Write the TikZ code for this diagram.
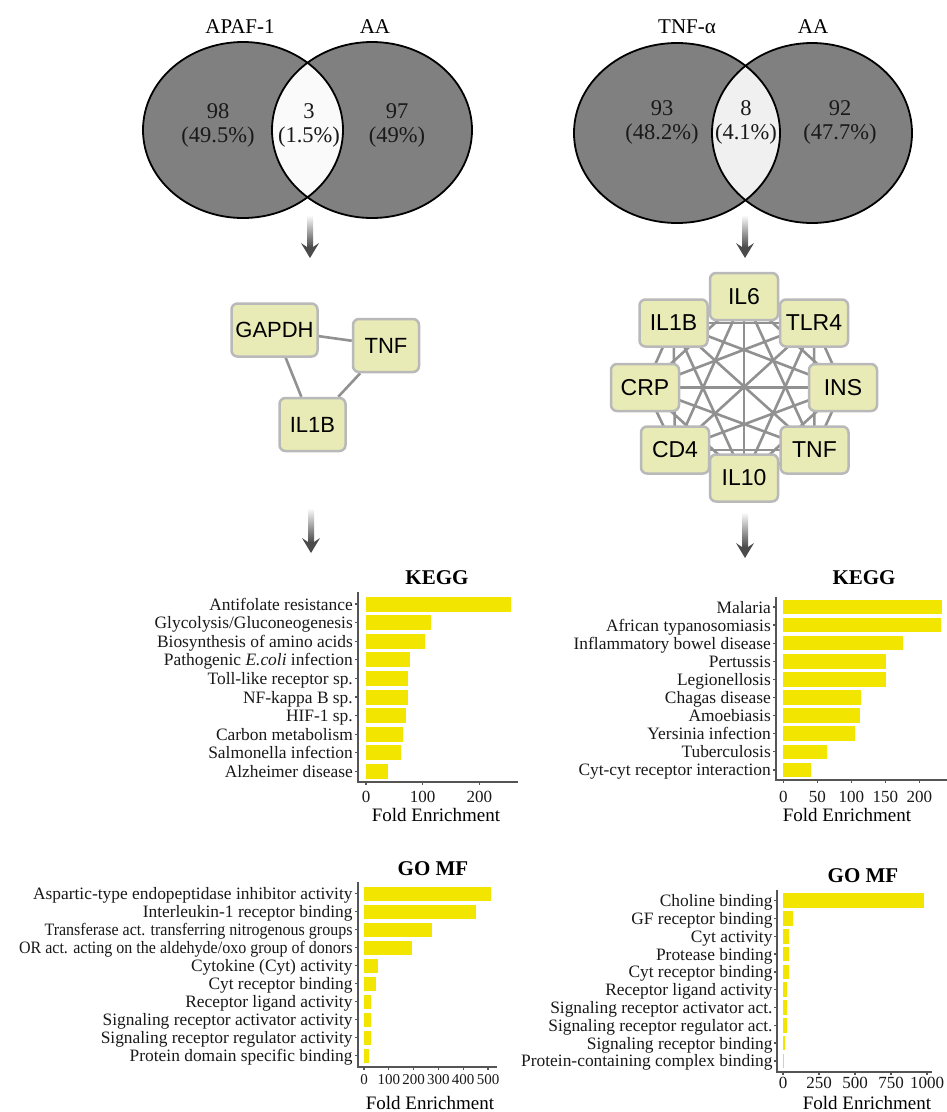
\documentclass[tikz,border=0pt]{standalone}
\usepackage{fontspec}
\setmainfont{Liberation Serif}
\newfontfamily\arialf{Liberation Sans}
\usetikzlibrary{backgrounds}
\pgfdeclarelayer{paper}
\pgfsetlayers{paper,background,main}
\definecolor{venngray}{RGB}{128,128,128}
\definecolor{lensL}{RGB}{250,250,250}
\definecolor{lensR}{RGB}{240,240,240}
\definecolor{boxfill}{RGB}{232,235,181}
\definecolor{boxedge}{RGB}{185,185,185}
\definecolor{edgec}{RGB}{145,145,145}
\definecolor{baryel}{RGB}{242,229,0}
\definecolor{axisc}{RGB}{85,85,85}
\definecolor{txt}{RGB}{25,25,25}
\definecolor{arrowc}{RGB}{75,75,75}
\newcommand\fs[1]{\fontsize{#1}{#1}\selectfont}
\newcommand\gradarrow[3]{%
  \shade[top color=white, bottom color=arrowc] (#1-3,#2) rectangle (#1+3,#3-11);
  \fill[arrowc] (#1-3,#3-11) -- (#1-9,#3-15) -- (#1,#3) -- (#1+9,#3-15) -- (#1+3,#3-11) -- cycle;
}
% #1 prefix, #2 xzero, #3 scale, #4 ytop, #5 dy, #6 barh, #7 label x, #8 axis x, #9 list
\newcommand\drawchart[9]{%
  \foreach \v/\l [count=\i from 0] in {#9}{
    \pgfmathsetmacro\yc{#4+\i*#5}
    \fill[bar] (#2,{\yc-#6/2}) rectangle ({#2+\v*#3},{\yc+#6/2});
    \node[barlab] (#1\i) at (#7,{\yc+6}) {\l};
    \draw[axisline] ({#8-3},\yc) -- (#8,\yc);
  }
}
\begin{document}
\begin{tikzpicture}[x=1pt,y=-1pt,
  vtitle/.style={font=\fs{21}, text=black, inner sep=0pt},
  vnum/.style={font=\fontsize{22.5}{24}\selectfont, text=txt, align=center, inner sep=0pt},
  vennfill/.style={fill=venngray},
  vennline/.style={draw=black, line width=1.8pt},
  gene/.style={draw=boxedge, line width=2.5pt, fill=boxfill, rounded corners=6pt,
    font=\arialf\fs{22}, minimum width=66pt, minimum height=53pt, inner sep=0pt},
  gener/.style={gene, font=\arialf\fs{23}, minimum width=68pt, minimum height=47pt},
  ppi/.style={draw=edgec, line width=2.6pt},
  bar/.style={fill=baryel},
  barlab/.style={anchor=base east, font=\fs{17.4}, text=txt, inner sep=0pt},
  ticklab/.style={anchor=base, font=\fs{17}, text=txt, inner sep=0pt},
  ticklabs/.style={anchor=base, font=\fs{15}, text=txt, inner sep=0pt},
  charttitle/.style={anchor=base, font=\bfseries\fs{21}, text=black, inner sep=0pt},
  fe/.style={anchor=base, font=\fs{19}, text=black, inner sep=0pt},
  axisline/.style={draw=axisc, line width=1.3pt}
]
\useasboundingbox (0,0) rectangle (947,1112);
\begin{pgfonlayer}{paper}
\fill[white] (0,0) rectangle (947,1112);
\end{pgfonlayer}

% ---------- Venn left ----------
\fill[vennfill] (243,130) ellipse [x radius=100pt, y radius=88pt];
\fill[vennfill] (372,130) ellipse [x radius=100pt, y radius=88pt];
\begin{scope}
  \clip (243,130) ellipse [x radius=100pt, y radius=88pt];
  \fill[lensL] (372,130) ellipse [x radius=100pt, y radius=88pt];
\end{scope}
\draw[vennline] (243,130) ellipse [x radius=100pt, y radius=88pt];
\draw[vennline] (372,130) ellipse [x radius=100pt, y radius=88pt];
\node[vtitle] (tapaf) at (240,27) {APAF-1};
\node[vtitle] (taa1) at (375,27) {AA};
\node[vnum] (nl1) at (218,125) {98\\(49.5\%)};
\node[vnum] (nl2) at (309,125) {3\\(1.5\%)};
\node[vnum] (nl3) at (397,125) {97\\(49\%)};

% ---------- Venn right ----------
\fill[vennfill] (677,133) ellipse [x radius=103pt, y radius=90pt];
\fill[vennfill] (812,133) ellipse [x radius=100pt, y radius=90pt];
\begin{scope}
  \clip (677,133) ellipse [x radius=103pt, y radius=90pt];
  \fill[lensR] (812,133) ellipse [x radius=100pt, y radius=90pt];
\end{scope}
\draw[vennline] (677,133) ellipse [x radius=103pt, y radius=90pt];
\draw[vennline] (812,133) ellipse [x radius=100pt, y radius=90pt];
\node[vtitle] (ttnf) at (687,27) {TNF-α};
\node[vtitle] (taa2) at (813,27) {AA};
\node[vnum] (nr1) at (662,122) {93\\(48.2\%)};
\node[vnum] (nr2) at (746,122) {8\\(4.1\%)};
\node[vnum] (nr3) at (840,122) {92\\(47.7\%)};

% ---------- arrows ----------
\gradarrow{310}{215}{258}
\gradarrow{745}{215}{258}
\gradarrow{311}{508}{553}
\gradarrow{745}{512}{558}

% ---------- left network ----------
\node[gene, minimum width=86pt] (gapdh) at (274.5,330) {GAPDH};
\node[gene] (tnfl) at (386,345.5) {TNF};
\node[gene] (il1bl) at (312.5,424.5) {IL1B};
\begin{scope}[on background layer]
  \draw[ppi] (gapdh) -- (tnfl);
  \draw[ppi] (gapdh) -- (il1bl);
  \draw[ppi] (tnfl) -- (il1bl);
\end{scope}

% ---------- right network ----------
\node[gener] (r1) at (744,296.5) {IL6};
\node[gener] (r2) at (814,323) {TLR4};
\node[gener] (r3) at (843,387.5) {INS};
\node[gener] (r4) at (814.5,450) {TNF};
\node[gener] (r5) at (744,478) {IL10};
\node[gener] (r6) at (675,450) {CD4};
\node[gener] (r7) at (645,387.5) {CRP};
\node[gener] (r8) at (673.5,323) {IL1B};
\begin{scope}[on background layer]
  \foreach \i in {1,...,7}{
    \pgfmathtruncatemacro\s{\i+1}
    \foreach \j in {\s,...,8}{
      \draw[ppi] (r\i.center) -- (r\j.center);
    }
  }
\end{scope}

% ---------- KEGG left ----------
\node[charttitle] (kt1) at (437,584) {KEGG};
\draw[axisline] (358,592) -- (358,782) -- (518,782);
\drawchart{ka}{366}{0.567}{604}{18.6}{15}{353}{358}{%
256/{Antifolate resistance},
115/{Glycolysis/Gluconeogenesis},
104/{Biosynthesis of amino acids},
78/{Pathogenic \textit{E.coli} infection},
74/{Toll-like receptor sp.},
74/{NF-kappa B sp.},
71/{HIF-1 sp.},
66/{Carbon metabolism},
61/{Salmonella infection},
39/{Alzheimer disease}}
\foreach \t in {0,100,200}{
  \draw[axisline] ({366+\t*0.567},782) -- ({366+\t*0.567},785);
  \node[ticklab] at ({366+\t*0.567},802) {\t};
}
\node[fe] (fe1) at (436,821) {Fold Enrichment};

% ---------- KEGG right ----------
\node[charttitle] (kt2) at (864,584) {KEGG};
\draw[axisline] (776,597) -- (776,780) -- (947,780);
\drawchart{kb}{783.3}{0.68}{607}{18.1}{14.5}{771}{776}{%
234/{Malaria},
232/{African typanosomiasis},
176/{Inflammatory bowel disease},
151/{Pertussis},
151/{Legionellosis},
114/{Chagas disease},
113/{Amoebiasis},
105/{Yersinia infection},
64/{Tuberculosis},
40/{Cyt-cyt receptor interaction}}
\foreach \t in {0,50,100,150,200}{
  \draw[axisline] ({783.3+\t*0.68},780) -- ({783.3+\t*0.68},783);
  \node[ticklab] at ({783.3+\t*0.68},802) {\t};
}
\node[fe] (fe2) at (847,821) {Fold Enrichment};

% ---------- GO MF left ----------
\node[charttitle] (gt1) at (433,875) {GO MF};
\draw[axisline] (358,882) -- (358,1067) -- (497,1067);
\drawchart{ga}{364}{0.248}{893.7}{18}{14}{352.7}{358}{%
511/{Aspartic-type endopeptidase inhibitor activity},
450/{Interleukin-1 receptor binding},
274/{\scalebox{0.92}[1]{Transferase act. transferring nitrogenous groups}},
193/{\scalebox{0.92}[1]{OR act. acting on the aldehyde/oxo group of donors}},
55/{Cytokine (Cyt) activity},
48/{Cyt receptor binding},
28/{Receptor ligand activity},
28/{Signaling receptor activator activity},
27/{Signaling receptor regulator activity},
22/{Protein domain specific binding}}
\foreach \t in {0,100,200,300,400,500}{
  \draw[axisline] ({364+\t*0.248},1067) -- ({364+\t*0.248},1070);
  \node[ticklabs] at ({364+\t*0.248},1084) {\t};
}
\node[fe] (fe3) at (430,1109) {Fold Enrichment};

% ---------- GO MF right ----------
\node[charttitle] (gt2) at (863,882) {GO MF};
\draw[axisline] (777,890) -- (777,1072) -- (932,1072);
\drawchart{gb}{783}{0.144}{900.7}{17.8}{14.5}{772.7}{777}{%
979/{Choline binding},
67/{GF receptor binding},
44/{Cyt activity},
39/{Protease binding},
39/{Cyt receptor binding},
30/{Receptor ligand activity},
30/{Signaling receptor activator act.},
28/{Signaling receptor regulator act.},
16/{Signaling receptor binding},
9/{Protein-containing complex binding}}
\foreach \t in {0,250,500,750,1000}{
  \draw[axisline] ({783+\t*0.144},1072) -- ({783+\t*0.144},1075);
  \node[ticklab] at ({783+\t*0.144},1088) {\t};
}
\node[fe] (fe4) at (867,1109) {Fold Enrichment};
\end{tikzpicture}
\end{document}
